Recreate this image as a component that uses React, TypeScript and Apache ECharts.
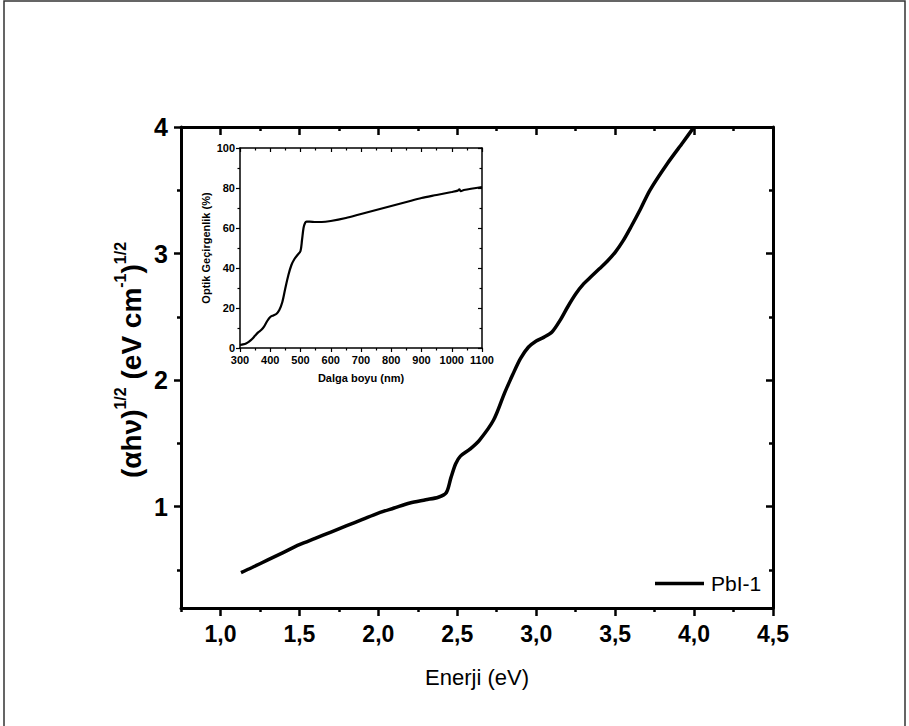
import React, { useEffect, useRef } from "react";
import * as echarts from "echarts";

// Main curve: (alpha h nu)^1/2 vs energy
const energy = [1.13, 1.2, 1.3, 1.4, 1.5, 1.6, 1.7, 1.8, 1.9, 2.0, 2.1, 2.2, 2.3, 2.38, 2.43, 2.46, 2.49, 2.52, 2.58, 2.64, 2.73, 2.8, 2.85, 2.9, 2.95, 3.0, 3.05, 3.1, 3.15, 3.2, 3.25, 3.3, 3.35, 3.4, 3.45, 3.5, 3.55, 3.6, 3.66, 3.72, 3.83, 3.93, 4.0];
const sqrtAlphaHv = [0.48, 0.52, 0.58, 0.64, 0.7, 0.75, 0.8, 0.85, 0.9, 0.95, 0.99, 1.03, 1.055, 1.075, 1.11, 1.23, 1.34, 1.4, 1.455, 1.525, 1.685, 1.9, 2.04, 2.17, 2.26, 2.31, 2.34, 2.38, 2.47, 2.58, 2.68, 2.76, 2.82, 2.88, 2.94, 3.01, 3.1, 3.21, 3.35, 3.5, 3.71, 3.88, 4.0];

// Inset: optical transmittance vs wavelength
const wavelength = [300, 310, 320, 330, 340, 350, 360, 370, 380, 390, 400, 410, 420, 430, 440, 450, 460, 470, 480, 490, 500, 505, 510, 515, 520, 530, 550, 570, 600, 650, 700, 750, 800, 850, 900, 950, 1000, 1020, 1025, 1030, 1040, 1100];
const transmittance = [1.5, 1.8, 2.3, 3.2, 4.5, 6.2, 7.8, 9.0, 10.8, 13.5, 15.5, 16.3, 17.0, 19.0, 23, 30, 36.5, 41.5, 44.5, 46.5, 48.5, 54, 60, 62.5, 63.2, 63.2, 63, 63, 63.5, 65, 67, 69, 71, 73, 75, 76.5, 78, 78.7, 79.3, 78.4, 79, 80.5];

const energyMajorTicks = [1.0, 1.5, 2.0, 2.5, 3.0, 3.5, 4.0, 4.5];
const energyMinorTicks = [0.75, 1.25, 1.75, 2.25, 2.75, 3.25, 3.75, 4.25];
const yMajorTicks = [1, 2, 3, 4];
const yMinorTicks = [0.5, 1.5, 2.5, 3.5];

const FONT = "'Liberation Sans', Arial, Helvetica, sans-serif";
const BLACK = "#000";

export default function App() {
  const ref = useRef<HTMLDivElement>(null);

  useEffect(() => {
    if (!ref.current) return;
    const chart = echarts.init(ref.current, undefined, { renderer: "svg" });

    const mainGrid = { left: 181, right: 136, top: 127, bottom: 118 };
    const insetGrid = { left: 240, right: 427, top: 148, bottom: 378 };

    const base = (extra: any) => ({
      type: "value",
      splitLine: { show: false },
      axisLine: { show: false, onZero: false },
      axisTick: { show: false },
      axisLabel: { show: false },
      ...extra,
    });

    const mainLine = { show: true, onZero: false, lineStyle: { color: BLACK, width: 3 } };

    const option: any = {
      animation: false,
      backgroundColor: "#fff",
      grid: [
        { ...mainGrid },
        { ...mainGrid },
        { ...insetGrid },
      ],
      xAxis: [
        base({
          gridIndex: 0, position: "bottom", min: 0.75, max: 4.5,
          axisLine: mainLine,
          axisTick: { show: true, customValues: energyMajorTicks, length: 8, lineStyle: { color: BLACK, width: 2.5 } },
          axisLabel: {
            show: true, customValues: energyMajorTicks, margin: 14,
            formatter: (v: number) => v.toFixed(1).replace(".", ","),
            color: BLACK, fontSize: 23, fontWeight: "bold", fontFamily: FONT,
          },
          name: "Enerji (eV)", nameLocation: "middle", nameGap: 58,
          nameTextStyle: { color: BLACK, fontSize: 22, fontFamily: FONT },
        }),
        base({
          gridIndex: 0, position: "top", min: 0.75, max: 4.5,
          axisLine: mainLine,
          axisTick: { show: true, inside: true, customValues: energyMajorTicks, length: 8, lineStyle: { color: BLACK, width: 2.5 } },
        }),
        base({
          gridIndex: 1, position: "bottom", min: 0.75, max: 4.5,
          axisTick: { show: true, customValues: energyMinorTicks, length: 4, lineStyle: { color: BLACK, width: 2.5 } },
        }),
        base({
          gridIndex: 1, position: "top", min: 0.75, max: 4.5,
          axisTick: { show: true, inside: true, customValues: energyMinorTicks, length: 4, lineStyle: { color: BLACK, width: 2.5 } },
        }),
        base({
          gridIndex: 2, position: "bottom", min: 300, max: 1100, interval: 100,
          axisLine: { show: true, onZero: false, lineStyle: { color: BLACK, width: 1.5 } },
          axisTick: { show: true, length: 4, lineStyle: { color: BLACK, width: 1.2 } },
          minorTick: { show: true, splitNumber: 2, length: 2.5, lineStyle: { color: BLACK, width: 1.2 } },
          axisLabel: {
            show: true, margin: 6, color: BLACK, fontSize: 11, fontWeight: "bold", fontFamily: FONT,
            formatter: (v: number) => String(v),
          },
          name: "Dalga boyu (nm)", nameLocation: "middle", nameGap: 24,
          nameTextStyle: { color: BLACK, fontSize: 11, fontWeight: "bold", fontFamily: FONT },
        }),
        base({
          gridIndex: 2, position: "top", min: 300, max: 1100, interval: 100,
          axisLine: { show: true, onZero: false, lineStyle: { color: BLACK, width: 1.5 } },
          axisTick: { show: true, inside: true, length: 4, lineStyle: { color: BLACK, width: 1.2 } },
          minorTick: { show: true, splitNumber: 2, length: 2.5, lineStyle: { color: BLACK, width: 1.2 } },
        }),
      ],
      yAxis: [
        base({
          gridIndex: 0, position: "left", min: 0.2, max: 4,
          axisLine: mainLine,
          axisTick: { show: true, customValues: yMajorTicks, length: 7, lineStyle: { color: BLACK, width: 2.5 } },
          axisLabel: {
            show: true, customValues: yMajorTicks, margin: 13,
            formatter: (v: number) => String(v),
            color: BLACK, fontSize: 25, fontWeight: "bold", fontFamily: FONT,
          },
        }),
        base({
          gridIndex: 0, position: "right", min: 0.2, max: 4,
          axisLine: mainLine,
          axisTick: { show: true, inside: true, customValues: yMajorTicks, length: 7, lineStyle: { color: BLACK, width: 2.5 } },
        }),
        base({
          gridIndex: 1, position: "left", min: 0.2, max: 4,
          axisTick: { show: true, customValues: yMinorTicks, length: 4, lineStyle: { color: BLACK, width: 2.5 } },
        }),
        base({
          gridIndex: 1, position: "right", min: 0.2, max: 4,
          axisTick: { show: true, inside: true, customValues: yMinorTicks, length: 4, lineStyle: { color: BLACK, width: 2.5 } },
        }),
        base({
          gridIndex: 2, position: "left", min: 0, max: 100, interval: 20,
          axisLine: { show: true, onZero: false, lineStyle: { color: BLACK, width: 1.5 } },
          axisTick: { show: true, length: 4, lineStyle: { color: BLACK, width: 1.2 } },
          minorTick: { show: true, splitNumber: 2, length: 2.5, lineStyle: { color: BLACK, width: 1.2 } },
          axisLabel: { show: true, margin: 5, color: BLACK, fontSize: 11, fontWeight: "bold", fontFamily: FONT },
          name: "Optik Geçirgenlik (%)", nameLocation: "middle", nameGap: 29, nameRotate: 90,
          nameTextStyle: { color: BLACK, fontSize: 11, fontWeight: "bold", fontFamily: FONT },
        }),
        base({
          gridIndex: 2, position: "right", min: 0, max: 100, interval: 20,
          axisLine: { show: true, onZero: false, lineStyle: { color: BLACK, width: 1.5 } },
          axisTick: { show: true, inside: true, length: 4, lineStyle: { color: BLACK, width: 1.2 } },
          minorTick: { show: true, splitNumber: 2, length: 2.5, lineStyle: { color: BLACK, width: 1.2 } },
        }),
      ],
      legend: {
        show: true,
        data: [{ name: "PbI-1", icon: "rect" }],
        left: 650,
        top: 568,
        itemWidth: 49,
        itemHeight: 3.5,
        itemGap: 6,
        itemStyle: { color: BLACK, borderWidth: 0 },
        textStyle: { color: BLACK, fontSize: 21, fontFamily: FONT, padding: [0, 0, 0, 2] },
      },
      series: [
        {
          name: "PbI-1",
          type: "line",
          xAxisIndex: 0,
          yAxisIndex: 0,
          data: energy.map((e, i) => [e, sqrtAlphaHv[i]]),
          symbol: "none",
          smooth: 0.3,
          lineStyle: { color: BLACK, width: 3.5 },
          itemStyle: { color: BLACK },
        },
        {
          name: "Optik",
          type: "line",
          xAxisIndex: 4,
          yAxisIndex: 4,
          data: wavelength.map((w, i) => [w, transmittance[i]]),
          symbol: "none",
          smooth: 0.3,
          lineStyle: { color: BLACK, width: 2.2 },
          itemStyle: { color: BLACK },
        },
      ],
      graphic: [
        {
          type: "rect",
          silent: true,
          shape: { x: 4, y: 1, width: 901, height: 760 },
          style: { fill: "none", stroke: "#333", lineWidth: 1.5 },
        },
        {
          type: "text",
          silent: true,
          x: 131,
          y: 360,
          rotation: Math.PI / 2,
          style: {
            text: "{b|(αhν)}{s|1/2}{b| (eV cm}{s|-1}{b|)}{s|1/2}",
            align: "center",
            verticalAlign: "middle",
            rich: {
              b: { fontSize: 28, fontWeight: "bold", fontFamily: FONT, lineHeight: 38, fill: BLACK },
              s: { fontSize: 16, fontWeight: "bold", fontFamily: FONT, verticalAlign: "top", fill: BLACK },
            },
          },
        },
      ],
    };

    chart.setOption(option);
    return () => chart.dispose();
  }, []);

  return (
    <div
      ref={ref}
      style={{ position: "fixed", left: 0, top: 0, width: 909, height: 726, background: "#fff" }}
    />
  );
}
